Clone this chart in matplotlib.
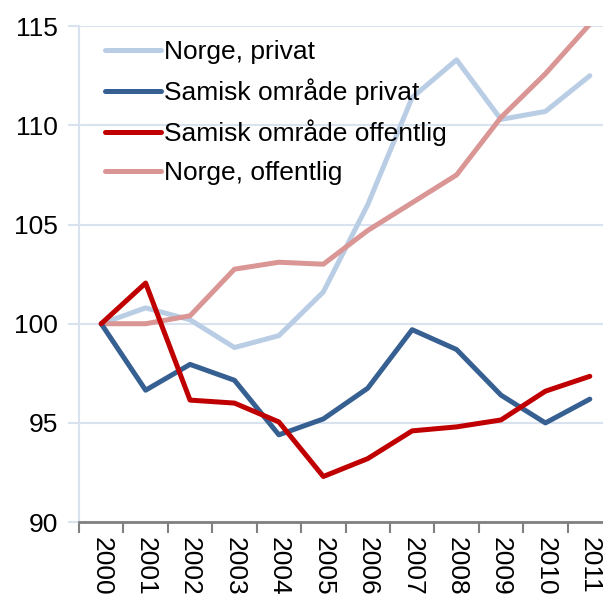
import matplotlib
matplotlib.use("Agg")
import matplotlib.pyplot as plt
import numpy as np

plt.rcParams['font.family'] = ['Liberation Sans', 'DejaVu Sans']

years = ['2000', '2001', '2002', '2003', '2004', '2005', '2006', '2007', '2008', '2009', '2010', '2011']
norge_privat = [100, 100.8, 100.2, 98.8, 99.4, 101.6, 106.0, 111.4, 113.3, 110.3, 110.7, 112.5]
samisk_privat = [100, 96.65, 97.95, 97.15, 94.4, 95.2, 96.75, 99.7, 98.7, 96.4, 95.0, 96.2]
samisk_offentlig = [100, 102.05, 96.15, 96.0, 95.05, 92.3, 93.2, 94.6, 94.8, 95.15, 96.6, 97.35]
norge_offentlig = [100, 100, 100.4, 102.75, 103.1, 103.0, 104.7, 106.1, 107.5, 110.4, 112.6, 115.1]
yticks = [90, 95, 100, 105, 110, 115]

FS = 19

fig = plt.figure(figsize=(6.03, 5.94), dpi=100)
ax = fig.add_axes([0.131, 0.121, 0.884, 0.835])

x = np.arange(len(years))
grid_c = '#d9e3f0'
ax.plot(x, norge_privat, color='#b9cde5', lw=3.6, label='Norge, privat', solid_capstyle='round', zorder=3)
ax.plot(x, samisk_privat, color='#376092', lw=3.6, label='Samisk område privat', solid_capstyle='round', zorder=4)
ax.plot(x, samisk_offentlig, color='#c00000', lw=3.6, label='Samisk område offentlig', solid_capstyle='round', zorder=5)
ax.plot(x, norge_offentlig, color='#d99694', lw=3.6, label='Norge, offentlig', solid_capstyle='round', zorder=3)

ax.set_ylim(90, 115)
ax.set_xlim(-0.5, len(years) - 0.5)
ax.set_yticks(yticks)
ax.set_yticklabels([str(v) for v in yticks], fontsize=FS)
for v in yticks:
    ax.axhline(v, color=grid_c, lw=1.5, zorder=1)

ax.set_xticks(np.arange(-0.5, len(years), 1.0))
ax.set_xticklabels([])
ax.set_xticks(x, minor=True)
ax.set_xticklabels(years, minor=True, rotation=270, fontsize=FS, va='top', ha='center')
ax.tick_params(axis='x', which='major', length=8, width=1.5, color='#808080', direction='out')
ax.tick_params(axis='x', which='minor', length=0, pad=11)
ax.tick_params(axis='y', length=8, width=1.5, color=grid_c, pad=7)

for s in ['top', 'right']:
    ax.spines[s].set_visible(False)
ax.spines['left'].set_color(grid_c)
ax.spines['left'].set_linewidth(1.5)
ax.spines['bottom'].set_color('#808080')
ax.spines['bottom'].set_linewidth(2)
ax.spines['bottom'].set_zorder(6)

leg = ax.legend(loc='upper left', frameon=False, fontsize=FS, handlelength=2.1,
                handletextpad=0.12, labelspacing=0.55, borderaxespad=0.2,
                bbox_to_anchor=(0.02, 1.004))

fig.savefig('out.png', dpi=100)
